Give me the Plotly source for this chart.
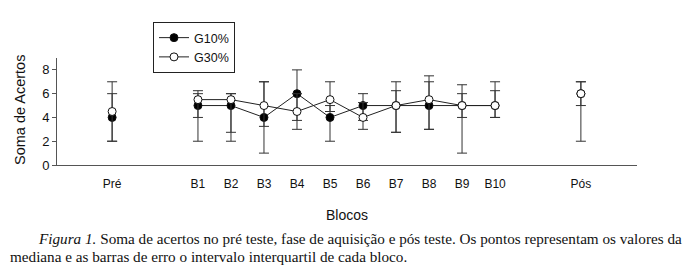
import plotly.graph_objects as go

categories = ["Pré", "B1", "B2", "B3", "B4", "B5", "B6", "B7", "B8", "B9", "B10", "Pós"]
g10_median = [4, 5, 5, 4, 6, 4, 5, 5, 5, 5, 5, 6]
g10_q1 = [2, 2, 2, 1, 3.75, 2, 3.75, 2.75, 3, 1, 4, 2]
g10_q3 = [6, 6, 6, 7, 8, 5, 6, 7, 7.5, 6.75, 7, 7]
g30_median = [4.5, 5.5, 5.5, 5, 4.5, 5.5, 4, 5, 5.5, 5, 5, 6]
g30_q1 = [2, 4, 2.75, 3.25, 3, 4.5, 3, 2.75, 3, 4, 4, 5]
g30_q3 = [7, 6.25, 6, 7, 6, 7, 5.25, 6.25, 7, 6, 6.25, 7]

# x positions: blocks at 1..10, pre/post separated by a wider gap
xpos = [1 - 2.6] + [i for i in range(1, 11)] + [10 + 2.6]

fig = go.Figure()

def add_group(name, med, q1, q3, fill, show):
    plus = [b - m for m, b in zip(med, q3)]
    minus = [m - a for m, a in zip(med, q1)]
    idx_iso = [0, len(med) - 1]
    idx_blk = list(range(1, len(med) - 1))
    for idx, mode, sl in [(idx_blk, "lines+markers", show), (idx_iso, "markers", False)]:
        fig.add_trace(go.Scatter(
            x=[xpos[i] for i in idx], y=[med[i] for i in idx],
            mode=mode, name=name, showlegend=sl, legendgroup=name,
            line=dict(color="#222", width=1),
            marker=dict(symbol="circle", size=8, color=fill,
                        line=dict(color="#111", width=1)),
            error_y=dict(type="data", symmetric=False,
                         array=[plus[i] for i in idx],
                         arrayminus=[minus[i] for i in idx],
                         color="#333", thickness=1, width=5),
        ))

add_group("G10%", g10_median, g10_q1, g10_q3, "#000000", True)
add_group("G30%", g30_median, g30_q1, g30_q3, "#ffffff", True)

fig.update_layout(
    width=684, height=259,
    margin=dict(l=49, r=55, t=50, b=102),
    paper_bgcolor="white", plot_bgcolor="white",
    font=dict(family="Liberation Sans, Arial, sans-serif", color="#111", size=12),
    showlegend=True,
    legend=dict(x=(153 - 57) / 580, y=(165 - 22) / 107, xanchor="left", yanchor="top",
                bordercolor="#222", borderwidth=1, bgcolor="white",
                font=dict(size=12.5), itemwidth=30, tracegroupgap=0),
    xaxis=dict(range=[1 - 4.27, 10 + 4.3], showgrid=False, zeroline=False,
               showline=True, linecolor="#555", linewidth=1,
               tickvals=xpos, ticktext=categories, ticks="outside", ticklen=8,
               tickcolor="rgba(0,0,0,0)", tickfont=dict(size=12)),
    yaxis=dict(range=[0, 9], showgrid=False, zeroline=False,
               showline=True, linecolor="#555", linewidth=1,
               tickvals=[0, 2, 4, 6, 8], ticks="outside", ticklen=4, tickcolor="#555",
               tickfont=dict(size=13)),
)

fig.add_annotation(text="Soma de Acertos", xref="paper", yref="paper",
                   x=(20 - 57) / 580, y=(165 - 110) / 107, textangle=-90,
                   xanchor="center", yanchor="middle",
                   showarrow=False, font=dict(size=14.5))
fig.add_annotation(text="Blocos", xref="paper", yref="paper",
                   x=(347 - 57) / 580, y=(165 - 215) / 107,
                   xanchor="center", yanchor="middle",
                   showarrow=False, font=dict(size=14))
serif = "Liberation Serif, Times New Roman, serif"
fig.add_annotation(text="<i>Figura 1.</i> Soma de acertos no pré teste, fase de aquisição e pós teste. Os pontos representam os valores da",
                   xref="paper", yref="paper", x=(36 - 57) / 580, y=(165 - 238) / 107,
                   xanchor="left", yanchor="middle", showarrow=False,
                   font=dict(size=15.2, family=serif))
fig.add_annotation(text="mediana e as barras de erro o intervalo interquartil de cada bloco.",
                   xref="paper", yref="paper", x=(8 - 57) / 580, y=(165 - 256) / 107,
                   xanchor="left", yanchor="middle", showarrow=False,
                   font=dict(size=15.2, family=serif))

fig.write_html("out.html")
